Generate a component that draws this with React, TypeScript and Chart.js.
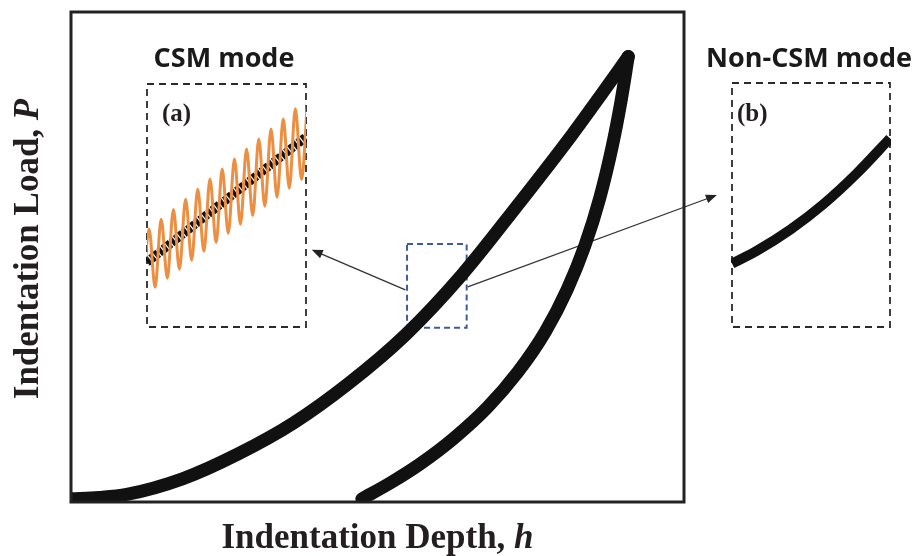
import React, { useEffect, useRef } from "react";
import { Chart, registerables } from "chart.js";

Chart.register(...registerables);

// ---- Main load–depth curve (arbitrary units: P_max = 100 at h_max = 100) ----
const loadingDepth = [0, 5, 10, 20, 30, 40, 50, 60, 70, 80, 90, 95, 100];
const loadingLoad = [0.7, 1.0, 1.7, 5.2, 10.8, 17.8, 26.8, 37.5, 50.8, 66.4, 82.6, 91.2, 100];
const unloadingDepth = [52.2, 57.2, 62.6, 68.6, 74.7, 80.2, 85.1, 89.0, 92.2, 94.9, 97.1, 98.7, 100];
const unloadingLoad = [0.7, 4.2, 8.5, 14.2, 21.2, 29.2, 38.2, 47.6, 57.5, 68.3, 79.7, 90.0, 100];

// zoom window (blue dashed box) on the loading curve, in main-axis units
const zoomBoxDepth = [60.3, 71.0];
const zoomBoxLoad = [39.1, 57.9];
// arrows (start -> head) in main-axis units
const arrowCSM = [60.0, 47.6, 43.2, 56.6];
const arrowNonCSM = [71.2, 48.3, 115.9, 68.9];

// ---- Inset (a): CSM mode ----
const csmWaveX = [-0.26, 0.13, 0.51, 0.89, 1.28, 1.66, 2.04, 2.43, 2.81, 3.19, 3.58, 3.96, 4.35, 4.73, 5.11, 5.5, 5.88, 6.26, 6.65, 7.03, 7.41, 7.8, 8.18, 8.57, 8.95, 9.33, 9.72, 10.1];
const csmWaveY = [1.28, 4.03, 1.64, 4.43, 2.01, 4.84, 2.38, 5.26, 2.75, 5.67, 3.12, 6.09, 3.48, 6.5, 3.86, 6.91, 4.23, 7.33, 4.59, 7.74, 4.97, 8.15, 5.34, 8.56, 5.71, 8.98, 6.07, 9.39];
const csmMeanX = [0, 5, 10];
const csmMeanY = [2.67, 5.25, 7.82];

// ---- Inset (b): Non-CSM mode ----
const nonCsmX = [0, 1.56, 3.67, 5.78, 7.89, 10];
const nonCsmY = [2.6, 3.12, 3.98, 5.03, 6.29, 7.73];

const xTitle = ["Indentation Depth, ", "h"];
const yTitle = ["Indentation Load, ", "P"];
const modeTitles = ["CSM mode", "Non-CSM mode"];
const insetLabels = ["(a)", "(b)"];

const SERIF_B = 'bold 35px "Liberation Serif", "DejaVu Serif", serif';
const SERIF_BI = 'italic bold 35px "Liberation Serif", "DejaVu Serif", serif';
const LABEL_FONT = 'bold 25px "Liberation Serif", "DejaVu Serif", serif';
const SANS_B = 'bold 27px "Open Sans", "Noto Sans", sans-serif';

const pts = (xs: number[], ys: number[]) => xs.map((x, i) => ({ x, y: ys[i] }));

function drawParts(ctx: CanvasRenderingContext2D, parts: { text: string; font: string }[], cx: number, base: number) {
  let total = 0;
  const ws = parts.map((p) => {
    ctx.font = p.font;
    const w = ctx.measureText(p.text).width;
    total += w;
    return w;
  });
  let x = cx - total / 2;
  ctx.textAlign = "left";
  ctx.textBaseline = "alphabetic";
  parts.forEach((p, i) => {
    ctx.font = p.font;
    ctx.fillText(p.text, x, base);
    x += ws[i];
  });
}

function drawArrow(ctx: CanvasRenderingContext2D, x1: number, y1: number, x2: number, y2: number) {
  const a = Math.atan2(y2 - y1, x2 - x1);
  const len = 11;
  const half = 4.5;
  ctx.beginPath();
  ctx.moveTo(x1, y1);
  ctx.lineTo(x2 - Math.cos(a) * len * 0.7, y2 - Math.sin(a) * len * 0.7);
  ctx.stroke();
  ctx.beginPath();
  ctx.moveTo(x2, y2);
  ctx.lineTo(x2 - len * Math.cos(a) + half * Math.sin(a), y2 - len * Math.sin(a) - half * Math.cos(a));
  ctx.lineTo(x2 - len * Math.cos(a) - half * Math.sin(a), y2 - len * Math.sin(a) + half * Math.cos(a));
  ctx.closePath();
  ctx.fill();
}

const mainDecor = {
  id: "mainDecor",
  beforeDatasetsDraw(chart: any) {
    const { ctx, scales } = chart;
    const x = scales.x;
    const y = scales.y;
    ctx.save();
    const bx1 = x.getPixelForValue(zoomBoxDepth[0]);
    const bx2 = x.getPixelForValue(zoomBoxDepth[1]);
    const by1 = y.getPixelForValue(zoomBoxLoad[1]);
    const by2 = y.getPixelForValue(zoomBoxLoad[0]);
    ctx.strokeStyle = "#3d5c9c";
    ctx.lineWidth = 2;
    ctx.setLineDash([6, 4]);
    ctx.strokeRect(bx1, by1, bx2 - bx1, by2 - by1);
    ctx.setLineDash([]);
    ctx.strokeStyle = "#333";
    ctx.fillStyle = "#222";
    ctx.lineWidth = 1.3;
    [arrowCSM, arrowNonCSM].forEach((a) => {
      drawArrow(ctx, x.getPixelForValue(a[0]), y.getPixelForValue(a[1]), x.getPixelForValue(a[2]), y.getPixelForValue(a[3]));
    });
    ctx.restore();
  },
  afterDatasetsDraw(chart: any) {
    const { ctx, chartArea } = chart;
    const { left, top, right, bottom } = chartArea;
    ctx.save();
    ctx.strokeStyle = "#222";
    ctx.lineWidth = 3;
    ctx.strokeRect(left, top, right - left, bottom - top);
    ctx.fillStyle = "#231f20";
    drawParts(ctx, [{ text: xTitle[0], font: SERIF_B }, { text: xTitle[1], font: SERIF_BI }], (left + right) / 2, 548);
    ctx.save();
    ctx.translate(38, 249);
    ctx.rotate(-Math.PI / 2);
    drawParts(ctx, [{ text: yTitle[0], font: SERIF_B }, { text: yTitle[1], font: SERIF_BI }], 0, 0);
    ctx.restore();
    ctx.fillStyle = "#1a1a1a";
    ctx.font = SANS_B;
    ctx.textAlign = "center";
    ctx.textBaseline = "alphabetic";
    ctx.fillText(modeTitles[0], 224, 67);
    ctx.fillText(modeTitles[1], 809, 67);
    ctx.restore();
  },
};

function insetDecor(label: string, dx: number, dy: number) {
  return {
    id: "insetDecor",
    beforeDatasetsDraw(chart: any) {
      const { ctx, chartArea } = chart;
      const { left, top, right, bottom } = chartArea;
      ctx.save();
      ctx.strokeStyle = "#2a2a2a";
      ctx.lineWidth = 1.8;
      ctx.setLineDash([7, 5]);
      ctx.strokeRect(left, top, right - left, bottom - top);
      ctx.setLineDash([]);
      ctx.fillStyle = "#231f20";
      ctx.font = LABEL_FONT;
      ctx.textAlign = "left";
      ctx.textBaseline = "alphabetic";
      ctx.fillText(label, left + dx, top + dy);
      ctx.restore();
    },
  };
}

const hiddenScales = (xmin: number, xmax: number, ymin: number, ymax: number) => ({
  x: { type: "linear" as const, min: xmin, max: xmax, display: false },
  y: { type: "linear" as const, min: ymin, max: ymax, display: false },
});

const baseOptions = {
  responsive: false,
  maintainAspectRatio: false,
  animation: false as const,
  devicePixelRatio: 1,
  events: [] as any[],
  plugins: { legend: { display: false }, tooltip: { enabled: false } },
  elements: { point: { radius: 0 } },
};

export default function App() {
  const mainRef = useRef<HTMLCanvasElement>(null);
  const aRef = useRef<HTMLCanvasElement>(null);
  const bRef = useRef<HTMLCanvasElement>(null);

  useEffect(() => {
    document.body.style.margin = "0";
    const curveStyle = {
      borderColor: "#111",
      borderWidth: 13,
      cubicInterpolationMode: "monotone",
      borderCapStyle: "round",
      borderJoinStyle: "round",
      clip: 0,
    };
    const main = new Chart(mainRef.current!, {
      type: "line",
      data: {
        datasets: [
          { data: pts(loadingDepth, loadingLoad), ...curveStyle },
          { data: pts(unloadingDepth, unloadingLoad), ...curveStyle },
        ],
      },
      options: {
        ...baseOptions,
        layout: { padding: { left: 71, right: 230, top: 12, bottom: 54 } },
        scales: hiddenScales(0, 110, 0, 110),
      } as any,
      plugins: [mainDecor],
    } as any);

    const insetA = new Chart(aRef.current!, {
      type: "line",
      data: {
        datasets: [
          {
            data: pts(csmWaveX, csmWaveY),
            borderColor: "#ec8f42",
            borderWidth: 3,
            cubicInterpolationMode: "monotone",
            clip: 0,
          },
          {
            data: pts(csmMeanX, csmMeanY),
            borderColor: "#111",
            borderWidth: 9,
            borderDash: [4, 1.2],
            clip: 1,
          },
        ],
      },
      options: {
        ...baseOptions,
        layout: { padding: 3 },
        scales: hiddenScales(0, 10, 0, 10),
      } as any,
      plugins: [insetDecor(insetLabels[0], 15, 37)],
    } as any);

    const insetB = new Chart(bRef.current!, {
      type: "line",
      data: {
        datasets: [
          {
            data: pts(nonCsmX, nonCsmY),
            borderColor: "#111",
            borderWidth: 10,
            cubicInterpolationMode: "monotone",
            clip: 1,
          },
        ],
      },
      options: {
        ...baseOptions,
        layout: { padding: 3 },
        scales: hiddenScales(0, 10, 0, 10),
      } as any,
      plugins: [insetDecor(insetLabels[1], 5, 38)],
    } as any);

    return () => {
      main.destroy();
      insetA.destroy();
      insetB.destroy();
    };
  }, []);

  return (
    <div style={{ position: "relative", width: 914, height: 556, background: "#fff", overflow: "hidden" }}>
      <canvas ref={mainRef} width={914} height={556} style={{ position: "absolute", left: 0, top: 0 }} />
      <canvas ref={aRef} width={165} height={249} style={{ position: "absolute", left: 144, top: 81 }} />
      <canvas ref={bRef} width={164} height={250} style={{ position: "absolute", left: 729, top: 80 }} />
    </div>
  );
}
